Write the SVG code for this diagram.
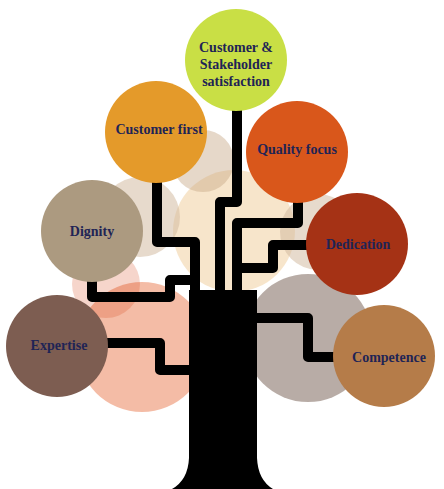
<svg xmlns="http://www.w3.org/2000/svg" width="444" height="489" viewBox="0 0 444 489">
<style>
.bg{stroke:none}
.br{fill:none;stroke:#000;stroke-width:10;stroke-linejoin:round}
.lbl{font-family:"Liberation Serif","Times New Roman",serif;font-weight:bold;font-size:14px;fill:#1F2455;text-anchor:middle}
</style>
<rect width="444" height="489" fill="#fff"/>
<g id="background">
<circle class="bg" cx="234" cy="231" r="61" fill="#F2D3A8" opacity="0.6"/>
<circle class="bg" cx="203" cy="161" r="31" fill="#C8A888" opacity="0.45"/>
<circle class="bg" cx="140" cy="217" r="40" fill="#D3BCA2" opacity="0.55"/>
<circle class="bg" cx="318" cy="232" r="38" fill="#D3BCA2" opacity="0.55"/>
<circle class="bg" cx="142" cy="347" r="65" fill="#F0A080" opacity="0.7"/>
<circle class="bg" cx="106" cy="284" r="34" fill="#D84010" opacity="0.22"/>
<circle class="bg" cx="308" cy="338" r="64" fill="#A09088" opacity="0.75"/>
</g>
<g id="connectors">
<path class="br" d="M237,108 V202 H220 V295"/>
<path class="br" d="M157,180 V242 H195 V295"/>
<path class="br" d="M92,278 V297 H170 V280 H195"/>
<path class="br" d="M298,198 V223 H237 V295"/>
<path class="br" d="M310,245 H273 V268 H237"/>
<path class="br" d="M104,343 H160 V370 H195"/>
<path class="br" d="M252,318 H308 V357 H338"/>
</g>
<g id="trunk">
<path d="M189,290 L257,290 L257,458 Q258,480 273,489 L172,489 Q188,480 189,458 Z" fill="#000"/>
</g>
<g id="node-css">
<circle cx="236" cy="60" r="51" fill="#C9DF45"/>
<text class="lbl" x="236" y="52">Customer &amp;</text>
<text class="lbl" x="236" y="69">Stakeholder</text>
<text class="lbl" x="236" y="86">satisfaction</text>
</g>
<g id="node-customer-first">
<circle cx="156" cy="132" r="51" fill="#E49A2A"/>
<text class="lbl" x="159" y="134">Customer first</text>
</g>
<g id="node-quality">
<circle cx="297" cy="152" r="51" fill="#D9571B"/>
<text class="lbl" x="297" y="154">Quality focus</text>
</g>
<g id="node-dignity">
<circle cx="92" cy="231" r="51" fill="#AC9A80"/>
<text class="lbl" x="92" y="236">Dignity</text>
</g>
<g id="node-dedication">
<circle cx="357" cy="244" r="51" fill="#A53215"/>
<text class="lbl" x="358" y="249">Dedication</text>
</g>
<g id="node-expertise">
<circle cx="57" cy="346" r="51" fill="#7D5D51"/>
<text class="lbl" x="59" y="350">Expertise</text>
</g>
<g id="node-competence">
<circle cx="384" cy="356" r="51" fill="#B57C49"/>
<text class="lbl" x="389" y="362">Competence</text>
</g>
</svg>
